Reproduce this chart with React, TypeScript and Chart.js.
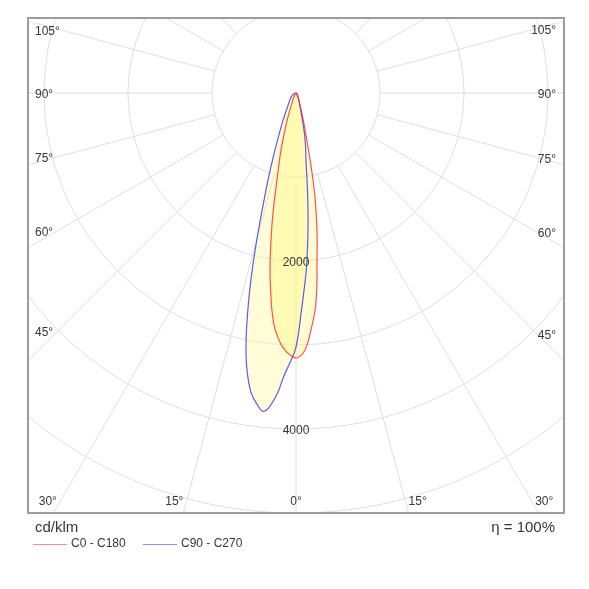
import React, { useEffect, useRef } from 'react';
import { Chart, registerables } from 'chart.js';

Chart.register(...registerables);

// Vertical angles (gamma, degrees from nadir)
const GAMMA = [0, 1.5, 2.5, 3.5, 5, 6, 7, 8.5, 10, 11, 12, 13.5, 15, 17.5, 20, 25, 30, 45, 60, 75, 90];
// Luminous intensity, cd/klm
const C0 = [3155, 3100, 3005, 2845, 2600, 2360, 2050, 1700, 1345, 1070, 790, 490, 345, 180, 110, 50, 25, 10, 5, 2, 0];
const C180 = [3160, 3110, 3060, 2990, 2830, 2670, 2450, 2090, 1680, 1415, 1140, 865, 670, 380, 200, 80, 30, 10, 5, 2, 0];
const C90 = [3024, 2570, 2310, 2070, 1640, 1360, 1100, 800, 660, 565, 470, 320, 220, 150, 110, 70, 50, 25, 12, 5, 0];
const C270 = [3024, 3240, 3380, 3575, 3765, 3810, 3745, 3610, 3355, 3120, 2820, 2310, 1790, 1150, 750, 380, 220, 90, 45, 20, 5];

const RING_VALUES = [1000, 2000, 3000, 4000, 5000, 6000, 7000];
const RING_LABELS = [2000, 4000];
const RAY_ANGLES = [0, 15, 30, 45, 60, 75, 90, 105, 120, 135, 150, 165, 180, 195, 210, 225, 240, 255, 270, 285, 300, 315, 330, 345];
const SIDE_ANGLE_LABELS = [45, 60, 75, 90, 105];
const BOTTOM_ANGLE_LABELS = [0, 15, 30];
const SERIES_NAMES = ['C0 - C180', 'C90 - C270'];
const UNIT_LABEL = 'cd/klm';
const EFFICIENCY_LABEL = 'η = 100%';

const FONT = '"Liberation Sans", Arial, sans-serif';
const TEXT_COLOR = '#363636';
const GRID_COLOR = '#dedede';
const RED = 'rgba(255,40,40,0.8)';
const BLUE = 'rgba(50,50,255,0.8)';

function toPoints(left: number[], right: number[]) {
  const pts: { x: number; y: number }[] = [];
  for (let i = GAMMA.length - 1; i >= 1; i--) {
    const g = (GAMMA[i] * Math.PI) / 180;
    pts.push({ x: -left[i] * Math.sin(g), y: -left[i] * Math.cos(g) });
  }
  for (let i = 0; i < GAMMA.length; i++) {
    const g = (GAMMA[i] * Math.PI) / 180;
    pts.push({ x: right[i] * Math.sin(g), y: -right[i] * Math.cos(g) });
  }
  return pts;
}

const polarPlugin = {
  id: 'polarGrid',
  beforeDraw(chart: any) {
    const { ctx, chartArea: a, scales } = chart;
    const sx = scales.x;
    const sy = scales.y;
    const cx = sx.getPixelForValue(0);
    const cy = sy.getPixelForValue(0);
    const k = (sx.getPixelForValue(1000) - cx) / 1000;
    ctx.save();
    ctx.beginPath();
    ctx.rect(a.left, a.top, a.right - a.left, a.bottom - a.top);
    ctx.clip();
    ctx.strokeStyle = GRID_COLOR;
    ctx.lineWidth = 1;
    RING_VALUES.forEach((v) => {
      ctx.beginPath();
      ctx.arc(cx, cy, v * k, 0, Math.PI * 2);
      ctx.stroke();
    });
    const r0 = RING_VALUES[0] * k;
    const r1 = 2000;
    RAY_ANGLES.forEach((deg) => {
      const g = (deg * Math.PI) / 180;
      ctx.beginPath();
      ctx.moveTo(cx + r0 * Math.sin(g), cy + r0 * Math.cos(g));
      ctx.lineTo(cx + r1 * Math.sin(g), cy + r1 * Math.cos(g));
      ctx.stroke();
    });
    ctx.restore();
  },
  afterDraw(chart: any) {
    const { ctx, chartArea: a, scales } = chart;
    const sx = scales.x;
    const sy = scales.y;
    const cx = sx.getPixelForValue(0);
    const cy = sy.getPixelForValue(0);
    const k = (sx.getPixelForValue(1000) - cx) / 1000;
    ctx.save();
    // frame
    ctx.strokeStyle = '#9c9c9c';
    ctx.lineWidth = 2;
    ctx.strokeRect(a.left, a.top, a.right - a.left, a.bottom - a.top);

    ctx.fillStyle = TEXT_COLOR;
    ctx.font = `12px ${FONT}`;
    ctx.textBaseline = 'middle';
    // ring labels
    ctx.textAlign = 'center';
    RING_LABELS.forEach((v) => {
      ctx.fillText(String(v), cx, cy + v * k + 2);
    });
    // side angle labels
    SIDE_ANGLE_LABELS.forEach((deg) => {
      const g = (deg * Math.PI) / 180;
      const dl = cx - (a.left + 30);
      const yl = cy + (dl * Math.cos(g)) / Math.sin(g) + 2;
      ctx.textAlign = 'left';
      ctx.fillText(`${deg}°`, a.left + 7, yl);
      const dr = a.right - 27 - cx;
      const yr = cy + (dr * Math.cos(g)) / Math.sin(g) + 2;
      ctx.textAlign = 'right';
      ctx.fillText(`${deg}°`, a.right - 8, yr);
    });
    // bottom angle labels
    const yb = a.bottom - 11;
    BOTTOM_ANGLE_LABELS.forEach((deg) => {
      const g = (deg * Math.PI) / 180;
      const off = (yb - cy) * Math.tan(g);
      if (deg === 0) {
        ctx.textAlign = 'center';
        ctx.fillText(`${deg}°`, cx, yb);
      } else {
        ctx.textAlign = 'right';
        ctx.fillText(`${deg}°`, cx - off - 3, yb);
        ctx.textAlign = 'left';
        ctx.fillText(`${deg}°`, cx + off + 3, yb);
      }
    });

    // unit and efficiency
    ctx.font = `15px ${FONT}`;
    ctx.textAlign = 'left';
    ctx.fillText(UNIT_LABEL, a.left + 7, a.bottom + 15);
    ctx.textAlign = 'right';
    ctx.fillText(EFFICIENCY_LABEL, a.right - 9, a.bottom + 15);

    // legend
    ctx.font = `12px ${FONT}`;
    ctx.textAlign = 'left';
    const ly = a.bottom + 31;
    const items = [
      { name: SERIES_NAMES[0], color: 'rgba(255,90,90,0.7)', x: a.left + 5 },
      { name: SERIES_NAMES[1], color: 'rgba(90,90,255,0.7)', x: a.left + 115 },
    ];
    items.forEach((it) => {
      ctx.strokeStyle = it.color;
      ctx.lineWidth = 1;
      ctx.beginPath();
      ctx.moveTo(it.x, ly + 0.5);
      ctx.lineTo(it.x + 34, ly + 0.5);
      ctx.stroke();
      ctx.fillStyle = TEXT_COLOR;
      ctx.fillText(it.name, it.x + 38, ly);
    });
    ctx.restore();
  },
};

export default function App() {
  const ref = useRef<HTMLCanvasElement | null>(null);
  useEffect(() => {
    if (!ref.current) return;
    const chart = new Chart(ref.current, {
      type: 'scatter',
      data: {
        datasets: [
          {
            label: SERIES_NAMES[0],
            data: toPoints(C180, C0),
            showLine: true,
            borderColor: RED,
            borderWidth: 1.2,
            backgroundColor: 'rgba(255,245,100,0.31)',
            fill: 'shape',
            pointRadius: 0,
            tension: 0.4,
          },
          {
            label: SERIES_NAMES[1],
            data: toPoints(C270, C90),
            showLine: true,
            borderColor: BLUE,
            borderWidth: 1.2,
            backgroundColor: 'rgba(255,250,150,0.37)',
            fill: 'shape',
            pointRadius: 0,
            tension: 0.4,
          },
        ],
      },
      options: {
        responsive: false,
        animation: false,
        layout: { padding: { left: 28, top: 18, right: 25, bottom: 76 } },
        scales: {
          x: { type: 'linear', min: -3190, max: 3190, display: false },
          y: { type: 'linear', min: -5000, max: 893, display: false },
        },
        plugins: {
          legend: { display: false },
          tooltip: { enabled: false },
          filler: { drawTime: 'beforeDatasetsDraw' },
        },
      } as any,
      plugins: [polarPlugin],
    });
    return () => chart.destroy();
  }, []);
  return (
    <div style={{ position: 'absolute', left: 0, top: 0, width: 589, height: 589, background: '#fff' }}>
      <canvas ref={ref} width={589} height={589} style={{ display: 'block' }} />
    </div>
  );
}
